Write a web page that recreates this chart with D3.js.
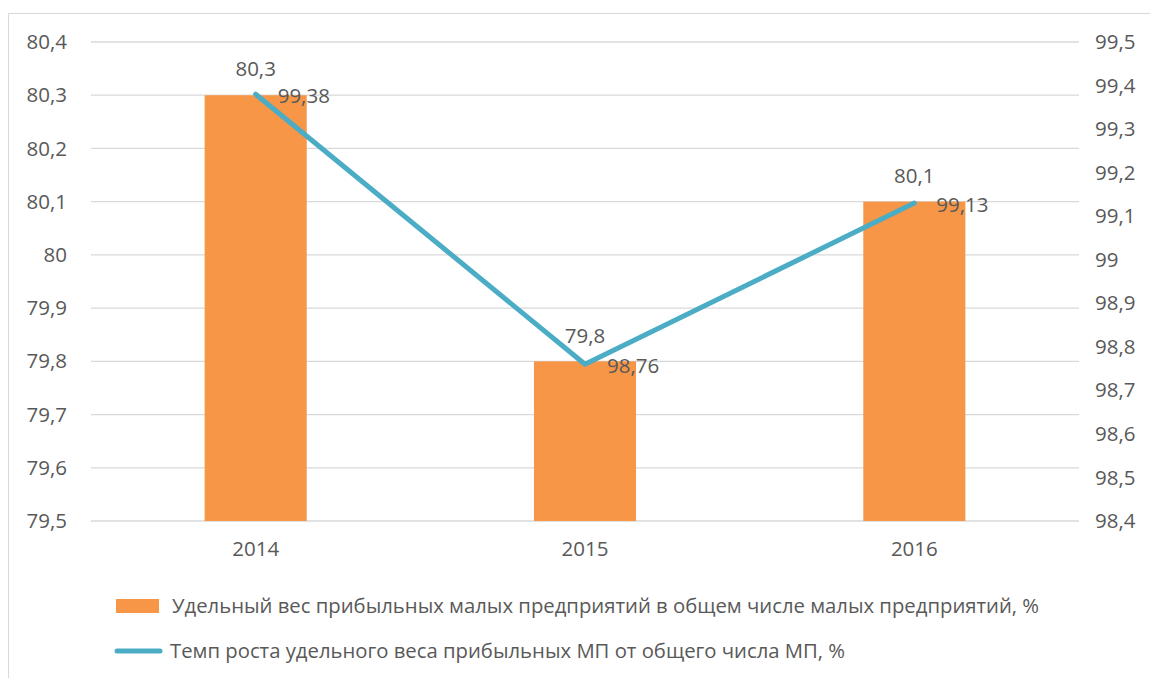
<!DOCTYPE html>
<html>
<head>
<meta charset="utf-8">
<script src="https://cdn.jsdelivr.net/npm/d3@7"></script>
<style>
  body { margin: 0; background: #fff; }
  text { font-family: "Open Sans", sans-serif; fill: #595959; }
</style>
</head>
<body>
<div id="chart"></div>
<script>
const years = ["2014", "2015", "2016"];
const shareValues = [80.3, 79.8, 80.1];
const growthValues = [99.38, 98.76, 99.13];
const leftTicks = [79.5, 79.6, 79.7, 79.8, 79.9, 80, 80.1, 80.2, 80.3, 80.4];
const rightTicks = [98.4, 98.5, 98.6, 98.7, 98.8, 98.9, 99, 99.1, 99.2, 99.3, 99.4, 99.5];
const barLabel = "Удельный вес прибыльных малых предприятий в общем числе малых предприятий, %";
const lineLabel = "Темп роста удельного веса прибыльных МП от общего числа МП, %";

const W = 1150, H = 678;
const margin = { top: 42, right: 71, bottom: 157, left: 91 };
const width = W - margin.left - margin.right;
const height = H - margin.top - margin.bottom;
const fs = "20.5px";

const fmt = v => String(v).replace(".", ",");

const svg = d3.select("#chart").append("svg")
  .attr("width", W).attr("height", H);

// chart area outline
svg.append("rect")
  .attr("x", 8.5).attr("y", 13.5)
  .attr("width", W).attr("height", H)
  .attr("fill", "none").attr("stroke", "#d9d9d9");

const g = svg.append("g").attr("transform", `translate(${margin.left},${margin.top})`);

const x = d3.scaleBand().domain(years).range([0, width]).paddingInner(0.69).paddingOuter(0.345);
const yL = d3.scaleLinear().domain([79.5, 80.4]).range([height, 0]);
const yR = d3.scaleLinear().domain([98.4, 99.5]).range([height, 0]);

// gridlines
g.append("g").selectAll("line").data(leftTicks).join("line")
  .attr("x1", 0).attr("x2", width)
  .attr("y1", d => yL(d)).attr("y2", d => yL(d))
  .attr("stroke", "#d9d9d9").attr("stroke-width", 1.3);

function styleAxis(ax) {
  ax.select(".domain").remove();
  ax.selectAll("text").style("font-size", fs).attr("fill", "#595959")
    .style("font-family", "'Open Sans', sans-serif");
}

// left axis
const axL = g.append("g").call(d3.axisLeft(yL).tickValues(leftTicks).tickFormat(fmt).tickSize(0).tickPadding(24));
styleAxis(axL);

// right axis
const axR = g.append("g").attr("transform", `translate(${width},0)`)
  .call(d3.axisRight(yR).tickValues(rightTicks).tickFormat(fmt).tickSize(0).tickPadding(16));
styleAxis(axR);

// bottom axis
const axB = g.append("g").attr("transform", `translate(0,${height})`)
  .call(d3.axisBottom(x).tickSize(0).tickPadding(20));
styleAxis(axB);

const bars = years.map((y, i) => ({ year: y, v: shareValues[i] }));
const pts = years.map((y, i) => ({ year: y, v: growthValues[i] }));

g.append("g").selectAll("rect").data(bars).join("rect")
  .attr("x", d => x(d.year))
  .attr("y", d => yL(d.v))
  .attr("width", x.bandwidth())
  .attr("height", d => height - yL(d.v))
  .attr("fill", "#f79646");

const cx = d => x(d.year) + x.bandwidth() / 2;

g.append("path").datum(pts)
  .attr("fill", "none").attr("stroke", "#4bacc6").attr("stroke-width", 5)
  .attr("stroke-linejoin", "round").attr("stroke-linecap", "round")
  .attr("d", d3.line().x(cx).y(d => yR(d.v)));

// bar data labels
g.append("g").selectAll("text").data(bars).join("text")
  .attr("x", cx).attr("y", d => yL(d.v) - 26)
  .attr("text-anchor", "middle").attr("dy", "0.35em")
  .style("font-size", fs)
  .text(d => fmt(d.v));

// line data labels
g.append("g").selectAll("text").data(pts).join("text")
  .attr("x", d => cx(d) + 22).attr("y", d => yR(d.v) + 2)
  .attr("dy", "0.35em")
  .style("font-size", fs)
  .text(d => fmt(d.v));

// legend
const lg = svg.append("g");
lg.append("rect").attr("x", 116).attr("y", 599).attr("width", 43).attr("height", 14).attr("fill", "#f79646");
lg.append("text").attr("x", 172).attr("y", 606).attr("dy", "0.35em").style("font-size", "20.3px").text(barLabel);
lg.append("line").attr("x1", 117).attr("x2", 160).attr("y1", 651).attr("y2", 651)
  .attr("stroke", "#4bacc6").attr("stroke-width", 5).attr("stroke-linecap", "round");
lg.append("text").attr("x", 170).attr("y", 651).attr("dy", "0.35em").style("font-size", "20.3px").text(lineLabel);
</script>
</body>
</html>
